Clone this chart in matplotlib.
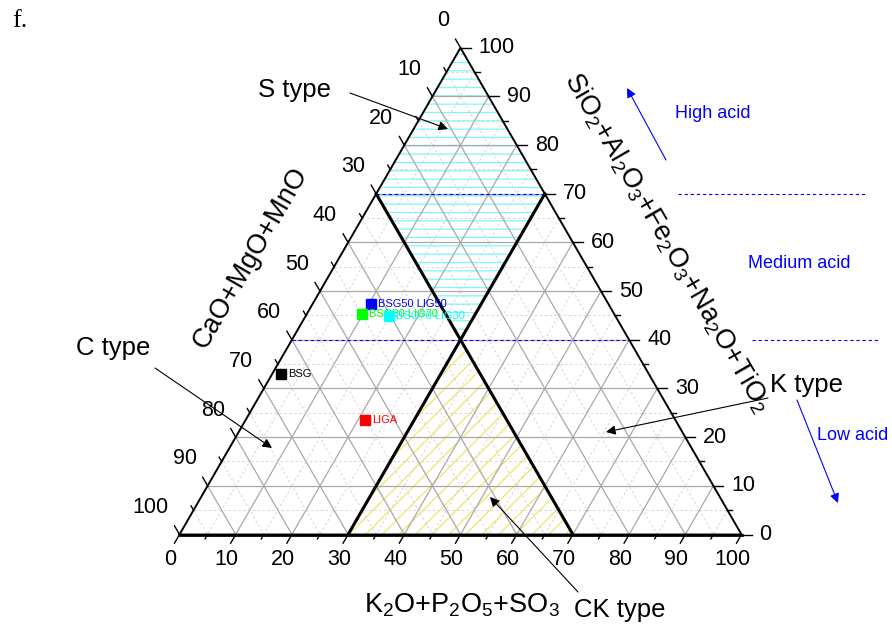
import numpy as np
import matplotlib
matplotlib.use('Agg')
import matplotlib.pyplot as plt
from matplotlib.patches import Polygon

plt.rcParams['font.family'] = ['Liberation Sans', 'DejaVu Sans']
plt.rcParams['mathtext.default'] = 'regular'
plt.rcParams['hatch.linewidth'] = 0.9

# composição (%): CaO+MgO+MnO, SiO2+Al2O3+Fe2O3+Na2O+TiO2, K2O+P2O5+SO3
samples = ['BSG50 LIG50', 'BSG30 LIG70', 'BSG70 LIG30', 'BSG', 'LIGA']
cao = [42.3, 44.9, 40.2, 65.5, 55.2]
sio2 = [47.3, 45.3, 44.9, 32.9, 23.5]
k2o = [10.4, 9.8, 14.9, 1.6, 21.3]
colors = ['#0000ff', '#00ff00', '#00ffff', '#000000', '#ff0000']

ticks = list(range(0, 101, 10))
limit_c = 30   # limites C type / K type
limit_k = 30
acid_levels = [70, 40]

H = np.sqrt(3) / 2


def tern(c, s, k):
    c, s, k = np.asarray(c, float), np.asarray(s, float), np.asarray(k, float)
    tot = c + s + k
    return (k + s / 2) / tot, s * H / tot


def px(x, y):
    # posição em pixels da figura -> coordenadas do eixo
    return (x - 179.5) / 562, (534.5 - y) / 562


fig = plt.figure(figsize=(8.92, 6.29), dpi=100)
ax = fig.add_axes([0, 0, 1, 1])
ax.set_xlim(-179.5 / 562, (892 - 179.5) / 562)
ax.set_ylim(-(629 - 534.5) / 562, 534.5 / 562)
ax.axis('off')

# regiões hachuradas
s_reg = np.array([tern(limit_c, 100 - limit_c, 0), tern(0, 100, 0),
                  tern(0, 100 - limit_k, limit_k), tern(limit_c, 100 - limit_c - limit_k, limit_k)])
ck_reg = np.array([tern(limit_c, 100 - limit_c - limit_k, limit_k), tern(100 - limit_k, 0, limit_k),
                   tern(limit_c, 0, 100 - limit_c)])
ax.add_patch(Polygon(s_reg, closed=True, facecolor='none', edgecolor='#7ff5f5', lw=0, hatch='--', zorder=1))
ax.add_patch(Polygon(ck_reg, closed=True, facecolor='none', edgecolor='#ecE66a', lw=0, hatch='//', zorder=1))

# grade
for v in range(5, 100, 5):
    if v % 10 == 0:
        kw = dict(color='#a8a8a8', lw=0.9, zorder=2)
    else:
        kw = dict(color='#d4d4d4', lw=0.7, ls=(0, (2.5, 2.5)), zorder=2)
    for a, b in [(tern(100 - v, v, 0), tern(0, v, 100 - v)),
                 (tern(v, 100 - v, 0), tern(v, 0, 100 - v)),
                 (tern(0, 100 - v, v), tern(100 - v, 0, v))]:
        ax.plot([a[0], b[0]], [a[1], b[1]], **kw)

# linhas de acidez
for lev in acid_levels:
    a, b = tern(100 - lev, lev, 0), tern(0, lev, 100 - lev)
    ax.plot([a[0], b[0]], [a[1], b[1]], color='#0000ff', lw=0.8, ls=(0, (3, 2.5)), zorder=3)
for lev, x0, x1 in [(70, 678, 865), (40, 752, 880)]:
    y = lev / 100 * H
    ax.plot([px(x0, 0)[0], px(x1, 0)[0]], [y, y], color='#0000ff', lw=0.8, ls=(0, (3, 2.5)), zorder=3)

# limites grossos
a, b = tern(limit_c, 100 - limit_c, 0), tern(limit_c, 0, 100 - limit_c)
ax.plot([a[0], b[0]], [a[1], b[1]], color='k', lw=2.2, zorder=4)
a, b = tern(0, 100 - limit_k, limit_k), tern(100 - limit_k, 0, limit_k)
ax.plot([a[0], b[0]], [a[1], b[1]], color='k', lw=2.2, zorder=4)

# contorno
tri = np.array([tern(100, 0, 0), tern(0, 0, 100), tern(0, 100, 0), tern(100, 0, 0)])
ax.plot(tri[:, 0], tri[:, 1], color='k', lw=1.4, zorder=4)
ax.plot(tri[:2, 0], tri[:2, 1], color='k', lw=2.0, zorder=4)

# ticks e rótulos
L = 10 / 562
d_bot = np.array([-0.5, -H])
d_right = np.array([1.0, 0.0])
d_left = np.array([-0.5, H])
for v in range(0, 101, 5):
    ln = L if v % 10 == 0 else L / 2
    p = np.array(tern(100 - v, 0, v))
    q = p + d_bot * ln
    ax.plot([p[0], q[0]], [p[1], q[1]], color='k', lw=1.0, zorder=4)
    p = np.array(tern(0, v, 100 - v))
    q = p + d_right * ln
    ax.plot([p[0], q[0]], [p[1], q[1]], color='k', lw=1.0, zorder=4)
    p = np.array(tern(v, 100 - v, 0))
    q = p + d_left * ln
    ax.plot([p[0], q[0]], [p[1], q[1]], color='k', lw=1.0, zorder=4)

for v in ticks:
    x, y = tern(100 - v, 0, v)
    ax.text(x - 9 / 562, y - 25 / 562, str(v), fontsize=15.5, ha='center', va='center')
    x, y = tern(0, v, 100 - v)
    ax.text(x + 18 / 562, y, str(v), fontsize=15.5, ha='left', va='center')
    x, y = tern(v, 100 - v, 0)
    ax.text(x - 11 / 562, y + 27 / 562, str(v), fontsize=15.5, ha='right', va='center')

# títulos dos eixos
ax.text(*px(462, 605), 'K$_2$O+P$_2$O$_5$+SO$_3$', fontsize=19.5, ha='center', va='center')
ax.text(*px(251, 258), 'CaO+MgO+MnO', fontsize=19.5, ha='center', va='center', rotation=60,
        rotation_mode='anchor')
ax.text(*px(667, 243), 'SiO$_2$+Al$_2$O$_3$+Fe$_2$O$_3$+Na$_2$O+TiO$_2$', fontsize=19.5,
        ha='center', va='center', rotation=-60, rotation_mode='anchor')

# amostras
for name, c, s, k, col in zip(samples, cao, sio2, k2o, colors):
    x, y = tern(c, s, k)
    ax.plot(x, y, marker='s', ms=7, color=col, ls='none', zorder=6)
    ax.annotate(name, (x, y), xytext=(5, 0), textcoords='offset points', fontsize=8,
                color=col, va='center', ha='left', zorder=6)

# tipos
arrow = dict(arrowstyle='-|>', color='k', lw=0.8, mutation_scale=14, shrinkA=0, shrinkB=0)
for label, tx, tail, head in [('S type', (295, 90), (350, 93), (448, 129)),
                              ('C type', (113, 348), (155, 368), (272, 448)),
                              ('K type', (806, 385), (768, 398), (606, 432)),
                              ('CK type', (620, 610), (578, 592), (490, 497))]:
    ax.text(*px(*tx), label, fontsize=18.5, ha='center', va='center')
    ax.annotate('', xy=px(*head), xytext=px(*tail), arrowprops=arrow)

blue_arrow = dict(arrowstyle='-|>', color='#0000ff', lw=0.8, mutation_scale=14, shrinkA=0, shrinkB=0)
ax.text(*px(713, 113), 'High acid', fontsize=13, color='#0000ff', ha='center', va='center')
ax.annotate('', xy=px(627, 88), xytext=px(666, 160), arrowprops=blue_arrow)
ax.text(*px(799, 264), 'Medium acid', fontsize=13, color='#0000ff', ha='center', va='center')
ax.text(*px(853, 436), 'Low acid', fontsize=13, color='#0000ff', ha='center', va='center')
ax.annotate('', xy=px(838, 503), xytext=px(797, 400), arrowprops=blue_arrow)

fig.text(12 / 892, 1 - 21 / 629, 'f.', fontsize=19, family='Liberation Serif', ha='left', va='center')

fig.savefig('out.png', dpi=100)
